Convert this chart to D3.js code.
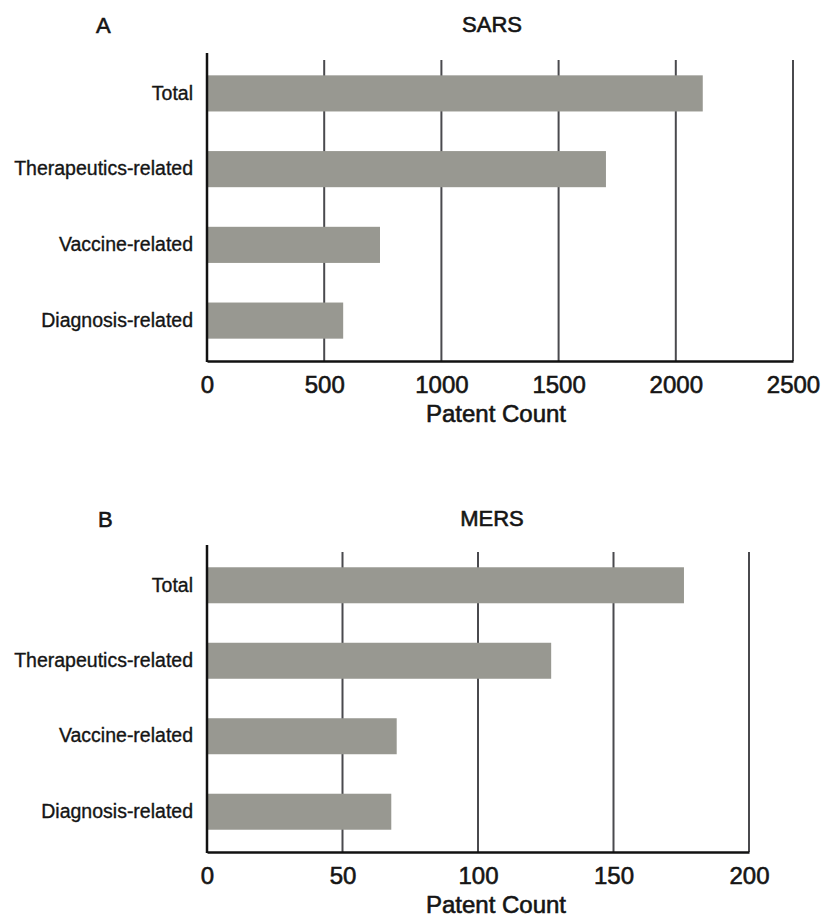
<!DOCTYPE html>
<html>
<head>
<meta charset="utf-8">
<script src="https://cdn.jsdelivr.net/npm/d3@7"></script>
<style>
  body { margin: 0; background: #fff; }
  svg { display: block; font-family: "Liberation Sans", Arial, sans-serif; }
</style>
</head>
<body>
<div id="chart"></div>
<script>
// categories shared by both panels
const categories = ['Total', 'Therapeutics-related', 'Vaccine-related', 'Diagnosis-related'];

// SARS patent counts
const sarsValues = [2115, 1702, 738, 581];
const sarsTicks = [0, 500, 1000, 1500, 2000, 2500];

// MERS patent counts
const mersValues = [176, 127, 70, 68];
const mersTicks = [0, 50, 100, 150, 200];

const width = 825, height = 920;
const svg = d3.select('#chart').append('svg')
  .attr('width', width)
  .attr('height', height);

// regular weight with a thin outline, to get the reference's medium look
const heavy = sel => sel
  .attr('fill', '#151515')
  .attr('stroke', '#151515')
  .attr('stroke-width', 0.6)
  .attr('font-family', '"Liberation Sans", Arial, sans-serif');

function drawPanel(opts) {
  const { letter, title, values, ticks, top, bottom } = opts;
  const left = 207, right = opts.right;

  const x = d3.scaleLinear()
    .domain([0, d3.max(ticks)])
    .range([left, right]);

  const y = d3.scaleBand()
    .domain(categories)
    .range([top, bottom])
    .paddingInner(0.523)
    .paddingOuter(0.295);

  const g = svg.append('g');

  // panel letter + title
  g.append('text')
    .attr('x', opts.letterX)
    .attr('y', opts.titleY)
    .attr('font-size', 22)
    .call(heavy)
    .text(letter);
  g.append('text')
    .attr('x', 492)
    .attr('y', opts.titleY - 1)
    .attr('text-anchor', 'middle')
    .attr('font-size', 22)
    .call(heavy)
    .text(title);

  // vertical gridlines (behind bars)
  g.selectAll('.grid')
    .data(ticks.slice(1))
    .join('line')
    .attr('x1', d => x(d))
    .attr('x2', d => x(d))
    .attr('y1', top + 7)
    .attr('y2', bottom)
    .attr('stroke', '#4a4a4e')
    .attr('stroke-width', 2);

  // bars
  g.selectAll('.bar')
    .data(values)
    .join('rect')
    .attr('x', x(0))
    .attr('y', (d, i) => y(categories[i]))
    .attr('width', d => x(d) - x(0))
    .attr('height', y.bandwidth())
    .attr('fill', '#989891');

  // y axis: category labels only, plus black spine
  const yAxis = g.append('g')
    .attr('transform', `translate(${left},0)`)
    .call(d3.axisLeft(y).tickSize(0).tickPadding(14));
  yAxis.select('.domain').remove();
  yAxis.selectAll('text')
    .attr('font-size', 19.5)
    .call(heavy)
    .attr('stroke-width', 0.35);

  g.append('line')
    .attr('x1', left).attr('x2', left)
    .attr('y1', top).attr('y2', bottom + 1)
    .attr('stroke', '#111')
    .attr('stroke-width', 2.5);

  // x axis
  const xAxis = g.append('g')
    .attr('transform', `translate(0,${bottom})`)
    .call(d3.axisBottom(x).tickValues(ticks).tickFormat(d3.format('d')).tickSize(0).tickPadding(15));
  xAxis.select('.domain')
    .attr('stroke', '#111')
    .attr('stroke-width', 2.5);
  xAxis.selectAll('text')
    .attr('font-size', 24)
    .call(heavy);

  g.append('text')
    .attr('x', 496)
    .attr('y', bottom + 61)
    .attr('text-anchor', 'middle')
    .attr('font-size', 24)
    .call(heavy)
    .text('Patent Count');
}

drawPanel({ letter: 'A', letterX: 96, titleY: 33, title: 'SARS', values: sarsValues, ticks: sarsTicks, top: 53, bottom: 361, right: 793 });
drawPanel({ letter: 'B', letterX: 98, titleY: 527, title: 'MERS', values: mersValues, ticks: mersTicks, top: 545, bottom: 852, right: 749 });
</script>
</body>
</html>
